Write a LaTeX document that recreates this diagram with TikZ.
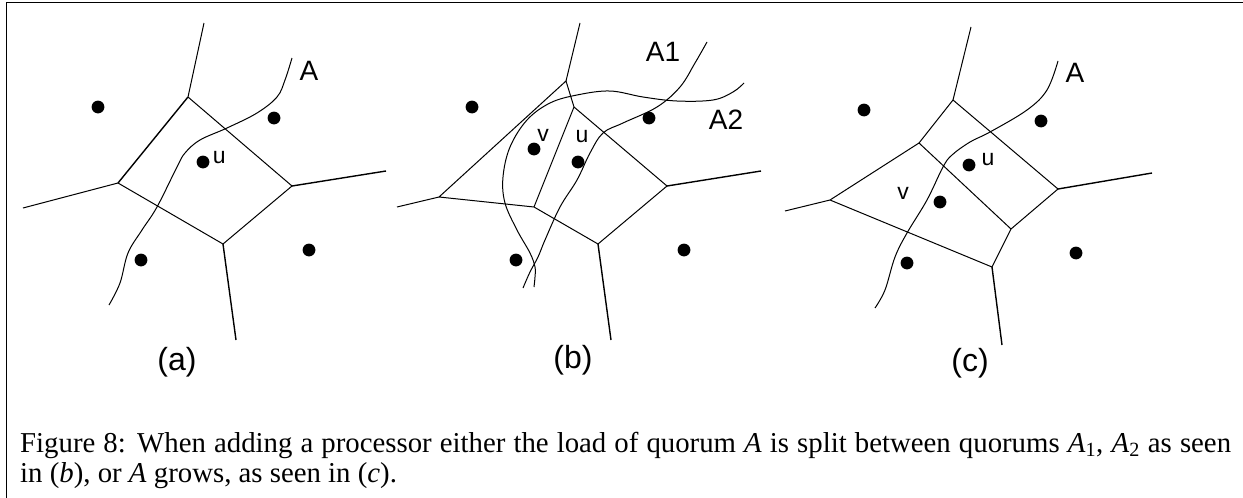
\documentclass[tikz,border=0pt]{standalone}
\usepackage{fontspec}
\setmainfont{Liberation Serif}
\setsansfont{Liberation Sans}
\usetikzlibrary{
    positioning
}

\begin{document}
\begin{tikzpicture}[
    x=1pt, y=-1pt,
    edge/.style={
        line width=1pt
    },
    spoke/.style={
        line width=1.4pt
    },
    quorum/.style={
        line width=1pt
    },
    site/.style={
        circle,
        fill=black,
        inner sep=0pt,
        minimum size=12.8pt
    },
    lbl/.style={
        inner sep=0pt,
        font=\sffamily\fontsize{28}{28}\selectfont
    },
    small/.style={
        inner sep=0pt,
        font=\sffamily\fontsize{23}{23}\selectfont
    },
    sub/.style={
        inner sep=0pt,
        font=\sffamily\fontsize{32}{32}\selectfont
    }
]

\useasboundingbox (0,0) rectangle (1243,498);
\draw[line width=1.2pt] (6.5,498) -- (6.5,2.5) -- (1243,2.5);

% (a)
\coordinate (aT)  at (188,97);
\coordinate (aL)  at (118,183);
\coordinate (aB)  at (223,244);
\coordinate (aR)  at (292,186);
\coordinate (aT0) at (204,23);
\coordinate (aL0) at (23,208);
\coordinate (aR0) at (386,171);
\coordinate (aB0) at (236,340);

\draw[edge] (aT) -- (aR) -- (aB) -- (aL);
\draw[spoke] (aL) -- (aT);
\draw[edge] (aT) -- (aT0);
\draw[edge] (aL) -- (aL0);
\draw[spoke] (aR) -- (aR0);
\draw[spoke] (aB) -- (aB0);

\draw[quorum] plot[smooth, tension=0.6] coordinates {
    (109,305) (120,283) (128,253) (142,230) (157,207) (177,167)
    (185,153) (200,140) (227,128) (257,113) (277,97) (285,80) (292,58)};

\node[site] (a1) at (98,107) {};
\node[site] (a2) at (274,118) {};
\node[site] (au) at (203,162) {};
\node[site] (a4) at (141,260) {};
\node[site] (a5) at (309,250) {};

\node[small, right=3pt of au, yshift=4pt] (aulbl) {u};
\node[lbl] (alblA) at (309,71) {A};
\node[sub] (acap) at (177,362) {(a)};

% (b)
\coordinate (bT)  at (566,81);
\coordinate (bM)  at (574,107);
\coordinate (bL)  at (439,197);
\coordinate (bC)  at (534,207);
\coordinate (bB)  at (598,244);
\coordinate (bR)  at (667,186);
\coordinate (bT0) at (580,23);
\coordinate (bL0) at (397,207);
\coordinate (bR0) at (761,171);
\coordinate (bB0) at (611,340);

\draw[edge] (bL) -- (bT) -- (bM) -- (bR) -- (bB) -- (bC) -- (bL);
\draw[edge] (bM) -- (bC);
\draw[edge] (bT) -- (bT0);
\draw[edge] (bL) -- (bL0);
\draw[spoke] (bR) -- (bR0);
\draw[spoke] (bB) -- (bB0);

\draw[quorum] plot[smooth, tension=0.6] coordinates {
    (523,288) (530,272) (538,257) (545,240) (560,207) (577,180)
    (590,153) (603,133) (623,123) (657,107) (680,87) (695,63) (707,42)};
\draw[quorum] plot[smooth, tension=0.6] coordinates {
    (534,287) (535,277) (535,267) (530,253) (517,230) (505,203)
    (503,177) (510,147) (527,120) (550,103) (577,95) (610,91)
    (643,97) (677,101) (713,100) (733,92) (744,83)};

\node[site] (b1) at (472,107) {};
\node[site] (b2) at (649,118) {};
\node[site] (bv) at (534,149) {};
\node[site] (bu) at (578,162) {};
\node[site] (b5) at (516,260) {};
\node[site] (b6) at (684,250) {};

\node[small] (bvlbl) at (543,135) {v};
\node[small] (bulbl) at (582,137) {u};
\node[lbl] (blblA1) at (663,52) {A1};
\node[lbl] (blblA2) at (726,120) {A2};
\node[sub] (bcap) at (573,360) {(b)};

% (c)
\coordinate (cT)  at (953,100);
\coordinate (cU)  at (919,143);
\coordinate (cL)  at (830,200);
\coordinate (cM)  at (1011,229);
\coordinate (cR)  at (1058,189);
\coordinate (cB)  at (992,267);
\coordinate (cT0) at (971,27);
\coordinate (cL0) at (785,211);
\coordinate (cR0) at (1152,173);
\coordinate (cB0) at (1002,345);

\draw[edge] (cL) -- (cU) -- (cT) -- (cR) -- (cM) -- (cB) -- (cL);
\draw[edge] (cU) -- (cM);
\draw[edge] (cT) -- (cT0);
\draw[edge] (cL) -- (cL0);
\draw[spoke] (cR) -- (cR0);
\draw[spoke] (cB) -- (cB0);

\draw[quorum] plot[smooth, tension=0.6] coordinates {
    (875,308) (885,290) (895,257) (907,233) (927,200) (943,167)
    (952,155) (970,142) (990,132) (1027,110) (1047,90) (1058,61)};

\node[site] (c1) at (864,110) {};
\node[site] (c2) at (1041,121) {};
\node[site] (cu) at (969,165) {};
\node[site] (cv) at (940,202) {};
\node[site] (c5) at (907,263) {};
\node[site] (c6) at (1076,253) {};

\node[small] (culbl) at (988,160) {u};
\node[small] (cvlbl) at (903,193) {v};
\node[lbl] (clblA) at (1075,73) {A};
\node[sub] (ccap) at (970,363) {(c)};

\node[anchor=base west, inner sep=0pt, text width=1211pt, align=justify,
    font=\fontsize{28.8}{30}\selectfont] (caption) at (20,452)
{Figure 8: When adding a processor either the load of quorum \textit{A} is split between quorums \textit{A}\textsubscript{1}, \textit{A}\textsubscript{2} as seen\linebreak
in (\textit{b}), or \textit{A} grows, as seen in (\textit{c}).};

\end{tikzpicture}
\end{document}
